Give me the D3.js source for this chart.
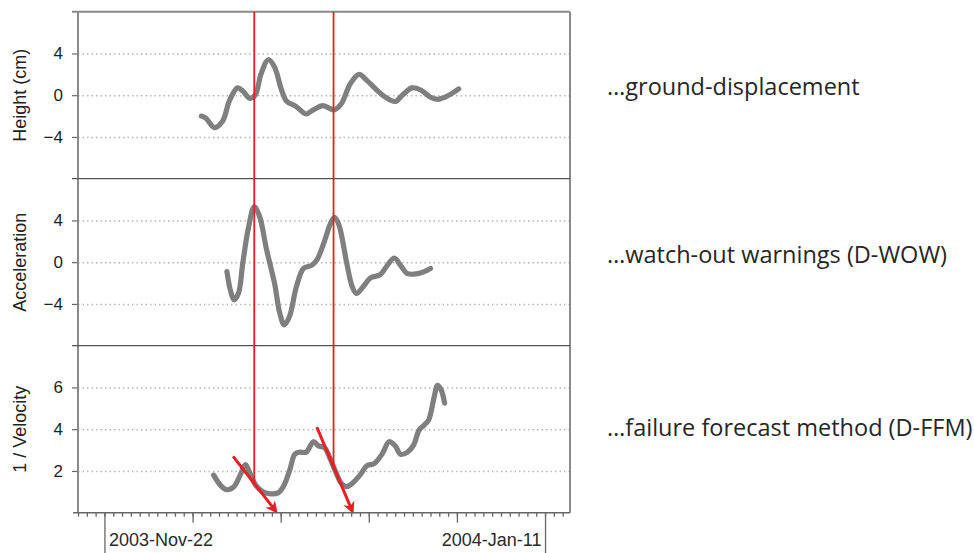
<!DOCTYPE html>
<html>
<head>
<meta charset="utf-8">
<title>Ground displacement / D-WOW / D-FFM</title>
<style>
  html, body { margin: 0; padding: 0; background: #fff; }
  svg { display: block; font-family: "Liberation Sans", Arial, sans-serif; }
  .grid line { stroke: #b5b5b5; stroke-width: 1.5; stroke-dasharray: 1.5,3; }
  .grid path { display: none; }
  .series { fill: none; stroke: #7f7f7f; stroke-width: 5.2; stroke-linecap: round; stroke-linejoin: round; }
  .yaxis path { display: none; }
  .yaxis line { stroke: #666; stroke-width: 1.2; }
  .yaxis text { font-size: 17px; fill: #1e1e1e; }
  .ytitle { font-size: 18px; fill: #222; }
  .xaxis path { stroke: #666; stroke-width: 1.5; }
  .xaxis line { stroke: #666; stroke-width: 1.3; }
  .xaxis text { font-size: 18px; fill: #2a2a2a; }
  .note { font-family: "Open Sans", sans-serif; font-size: 23.5px; fill: #262626; }
</style>
</head>
<body>
<svg id="chart" width="974" height="553"></svg>
<script src="https://cdn.jsdelivr.net/npm/d3@7"></script>
<script>
// days counted from 2003-11-19
const startDate = new Date(2003, 10, 19);

const heightDays = [14.0, 14.5, 15.5, 16.4, 17.2, 18.1, 18.7, 19.5, 20.1, 20.8, 21.6, 22.3, 23.1, 23.7, 24.6, 25.2, 25.9, 26.7,
  27.8, 28.4, 29.1, 29.9, 30.9, 31.9, 32.8, 33.9, 34.9, 36.0, 36.8, 37.9, 38.9, 40.0, 40.8, 41.6, 42.5, 43.2];
const heightValues = [-2.0, -2.2, -3.1, -2.5, -0.5, 0.7, 0.4, -0.3, 0.0, 2.1, 3.4, 2.7, 0.5, -0.6, -1.0, -1.4, -1.8, -1.4,
  -1.0, -1.2, -1.4, -0.8, 1.1, 2.0, 1.4, 0.5, -0.2, -0.6, 0.0, 0.7, 0.5, -0.2, -0.4, -0.2, 0.2, 0.6];

const accelDays = [16.9, 17.3, 17.7, 18.2, 18.7, 19.3, 20.0, 20.6, 21.4, 22.3, 22.9, 23.4, 24.0, 24.8, 25.6, 26.5, 27.1,
  28.0, 28.6, 29.1, 29.6, 30.5, 31.1, 31.6, 32.4, 33.2, 34.3, 35.1, 35.9, 36.6, 37.4, 38.5, 39.3, 40.0];
const accelValues = [-0.9, -2.7, -3.6, -3.0, -0.1, 3.1, 5.3, 4.4, 1.2, -2.0, -4.9, -6.0, -5.2, -2.3, -0.6, -0.3, 0.2,
  2.1, 3.6, 4.3, 3.6, -0.1, -2.3, -3.0, -2.3, -1.5, -1.2, -0.3, 0.4, -0.3, -1.1, -1.1, -0.9, -0.6];

const invVelDays = [15.4, 16.2, 16.9, 17.7, 18.4, 19.0, 19.4, 20.2, 21.0, 21.9, 22.7, 23.3, 24.0, 24.6, 25.1, 25.9, 26.7,
  27.3, 28.0, 28.6, 29.2, 29.9, 30.5, 31.1, 32.0, 32.8, 33.6, 34.5, 35.3, 36.0, 36.6, 37.4, 38.1, 38.7, 39.3, 39.8,
  40.4, 40.8, 41.2, 41.6];
const invVelValues = [1.8, 1.3, 1.1, 1.25, 1.8, 2.3, 2.0, 1.3, 1.0, 0.9, 0.95, 1.25, 2.0, 2.8, 2.9, 2.9, 3.4,
  3.2, 3.1, 2.6, 2.0, 1.4, 1.25, 1.4, 1.8, 2.25, 2.35, 2.8, 3.4, 3.2, 2.8, 2.9, 3.25, 3.95, 4.2, 4.45,
  5.5, 6.1, 5.9, 5.25];

// warning dates (red verticals) and forecast arrows on the 1/velocity panel
const warningDates = ["2003-12-09", "2003-12-18"];
const arrowStartDays = [17.6, 27.1];
const arrowStartValues = [2.7, 4.1];
const arrowEndDays = [22.4, 31.1];
const arrowEndValues = [0.1, 0.1];

const panelTitles = ["Height (cm)", "Acceleration", "1 / Velocity"];
const panelTicks = [[-4, 0, 4], [-4, 0, 4], [2, 4, 6]];
const panelDomains = [[-8, 8], [-8, 8], [0, 8]];
const panelNotes = ["\u2026ground-displacement", "\u2026watch-out warnings (D-WOW)", "\u2026failure forecast method (D-FFM)"];
const labelDates = ["2003-11-22", "2004-01-11"];
const midDates = ["2003-12-02", "2003-12-12", "2003-12-22", "2004-01-01"];

const parse = d3.timeParse("%Y-%m-%d");
const toDate = d => d3.timeMinute.offset(startDate, Math.round(d * 1440));

const plotLeft = 78, plotRight = 570, plotTop = 11.7, panelH = 167;
const plotBottom = plotTop + 3 * panelH;

const svg = d3.select('#chart');

const x = d3.scaleTime()
  .domain([startDate, d3.timeHour.offset(startDate, 55 * 24 + 20)])
  .range([plotLeft, plotRight]);

const series = [
  heightDays.map((d, i) => [toDate(d), heightValues[i]]),
  accelDays.map((d, i) => [toDate(d), accelValues[i]]),
  invVelDays.map((d, i) => [toDate(d), invVelValues[i]])
];

const yScales = panelDomains.map((dom, i) => d3.scaleLinear()
  .domain(dom)
  .range([plotTop + (i + 1) * panelH, plotTop + i * panelH]));

svg.append('defs').append('marker')
  .attr('id', 'arrowhead')
  .attr('viewBox', '0 0 10 10')
  .attr('refX', 7).attr('refY', 5)
  .attr('markerWidth', 4).attr('markerHeight', 4)
  .attr('orient', 'auto')
  .append('path')
  .attr('d', 'M0,0 L10,5 L0,10 L3,5 z')
  .attr('fill', '#ee1c24');

yScales.forEach((y, i) => {
  const g = svg.append('g');

  // dotted grid
  g.append('g')
    .attr('class', 'grid')
    .attr('transform', `translate(${plotLeft},0)`)
    .call(d3.axisLeft(y).tickValues(panelTicks[i]).tickSize(-(plotRight - plotLeft)).tickFormat(''));

  g.append('g')
    .attr('class', 'yaxis')
    .attr('transform', `translate(${plotLeft},0)`)
    .call(d3.axisLeft(y).tickValues(panelTicks[i]).tickSize(6).tickPadding(9));

  const mid = (y.range()[0] + y.range()[1]) / 2;
  g.append('text')
    .attr('class', 'ytitle')
    .attr('transform', `translate(26,${mid}) rotate(-90)`)
    .attr('text-anchor', 'middle')
    .text(panelTitles[i]);

  const line = d3.line()
    .curve(d3.curveCatmullRom.alpha(0.5))
    .x(d => x(d[0]))
    .y(d => y(d[1]));

  g.append('path')
    .attr('class', 'series')
    .attr('d', line(series[i]));

  svg.append('text')
    .attr('class', 'note')
    .attr('x', 607)
    .attr('y', [95, 263, 436][i])
    .text(panelNotes[i]);
});

// panel frames
svg.append('line')
  .attr('x1', plotRight).attr('x2', plotRight).attr('y1', plotTop).attr('y2', plotBottom)
  .attr('stroke', '#8a8a8a').attr('stroke-width', 2);
svg.append('line')
  .attr('x1', plotLeft).attr('x2', plotLeft).attr('y1', plotTop).attr('y2', plotBottom)
  .attr('stroke', '#8a8a8a').attr('stroke-width', 2);
[0, 1, 2].forEach(i => {
  svg.append('line')
    .attr('x1', plotLeft - 6).attr('x2', plotRight)
    .attr('y1', plotTop + i * panelH).attr('y2', plotTop + i * panelH)
    .attr('stroke', i === 0 ? '#8a8a8a' : '#555')
    .attr('stroke-width', i === 0 ? 2 : 1.2);
});

// red warning lines, down to where the forecast arrow crosses them
const y3 = yScales[2];
warningDates.forEach((ds, i) => {
  const t = parse(ds);
  const a0 = toDate(arrowStartDays[i]), a1 = toDate(arrowEndDays[i]);
  const f = (t - a0) / (a1 - a0);
  const v = arrowStartValues[i] + f * (arrowEndValues[i] - arrowStartValues[i]);
  svg.append('line')
    .attr('x1', x(t)).attr('x2', x(t))
    .attr('y1', plotTop).attr('y2', y3(v))
    .attr('stroke', '#ee1c24').attr('stroke-width', 1.8);
});

arrowStartDays.forEach((d, i) => {
  svg.append('line')
    .attr('x1', x(toDate(d))).attr('y1', y3(arrowStartValues[i]))
    .attr('x2', x(toDate(arrowEndDays[i]))).attr('y2', y3(arrowEndValues[i]))
    .attr('stroke', '#ee1c24').attr('stroke-width', 3)
    .attr('marker-end', 'url(#arrowhead)');
});

// x axis: daily ticks, 10-day ticks and two long labelled ticks
const xg = svg.append('g').attr('class', 'xaxis').attr('transform', `translate(0,${plotBottom})`);
xg.call(d3.axisBottom(x).ticks(d3.timeDay.every(1)).tickSize(4).tickFormat('').tickSizeOuter(0));
xg.select('.domain').attr('d', `M${plotLeft - 5},0H${plotRight}`);

svg.append('g').attr('class', 'xaxis')
  .attr('transform', `translate(0,${plotBottom})`)
  .call(d3.axisBottom(x).tickValues(midDates.map(parse)).tickSize(10).tickFormat(''))
  .select('.domain').remove();

const fmt = d3.timeFormat('%Y-%b-%d');
const lg = svg.append('g').attr('class', 'xaxis')
  .attr('transform', `translate(0,${plotBottom})`)
  .call(d3.axisBottom(x).tickValues(labelDates.map(parse)).tickSize(42).tickFormat(fmt));
lg.select('.domain').remove();
lg.selectAll('.tick text')
  .attr('y', 33.5)
  .attr('dy', 0)
  .attr('x', (d, i) => i === 0 ? 4 : -4)
  .attr('text-anchor', (d, i) => i === 0 ? 'start' : 'end');
</script>
</body>
</html>
